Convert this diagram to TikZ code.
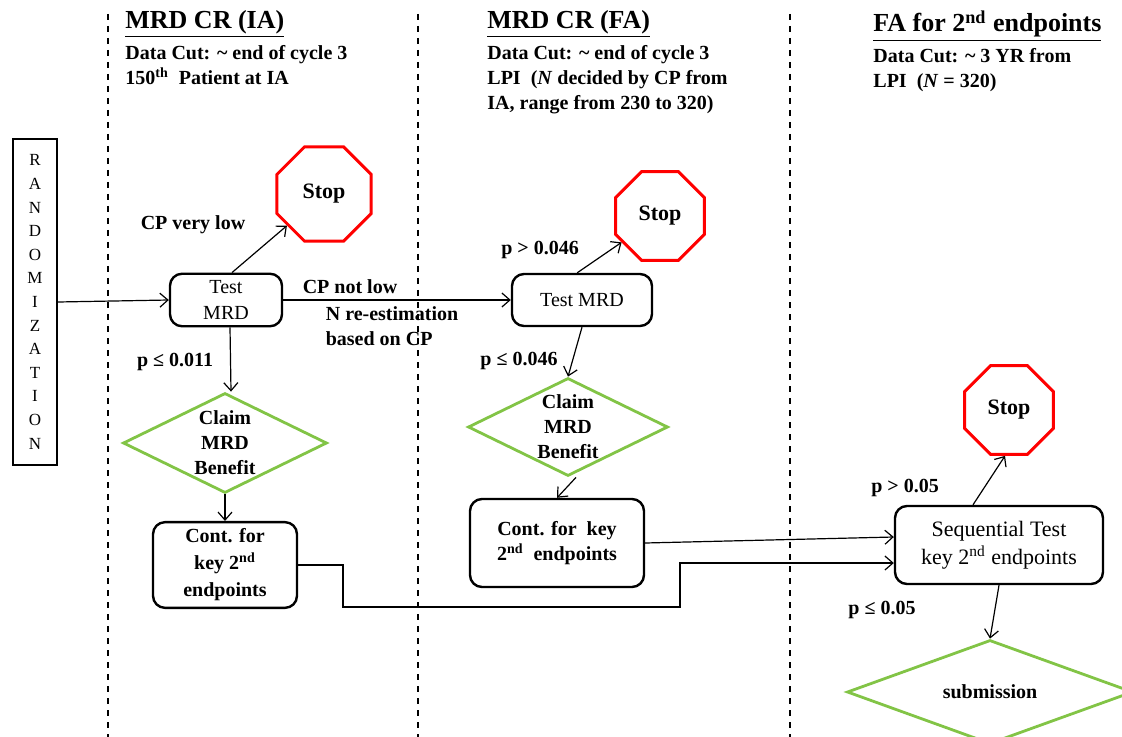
\documentclass[tikz,border=0pt]{standalone}
\usepackage{fontspec}
\setmainfont{Liberation Serif}
\usepackage{tikz}
\usetikzlibrary{shapes,arrows,positioning,calc,arrows.meta}

\definecolor{stopred}{RGB}{255,0,0}
\definecolor{claimgreen}{RGB}{130,196,70}

\tikzset{
    testbox/.style={draw, line width=1.2pt, rounded corners=6pt, align=center,
        font=\fontsize{10}{13}\selectfont},
    stopsign/.style={draw=stopred, line width=1.5pt, regular polygon, regular polygon sides=8,
        minimum size=48pt, inner sep=0pt, font=\fontsize{11}{13}\selectfont\bfseries},
    claimdiamond/.style={draw=claimgreen, line width=1.4pt, diamond, aspect=2, inner sep=0pt,
        align=center, font=\fontsize{10}{12.5}\selectfont\bfseries},
    lbl/.style={font=\fontsize{10}{12.5}\selectfont\bfseries},
    hdr/.style={anchor=north west, align=left, inner sep=0pt,
        font=\fontsize{10}{12.5}\selectfont\bfseries}
}

\begin{document}
\begin{tikzpicture}[x=0.5pt, y=-0.5pt, >={Straight Barb[length=4pt,width=7pt]}]
    \useasboundingbox (0,0) rectangle (1122,737);

    \foreach \x in {108,418,790}
        \draw [dashed, line width=0.6pt] (\x,14) -- (\x,737);

    % column headers
    \node [hdr] (hdria) at (125,10) {{\fontsize{13}{15}\selectfont\underline{MRD CR (IA)}}\\[3pt]
        Data Cut: \textasciitilde{} end of cycle 3\\
        150\textsuperscript{th}\ \ Patient at IA};
    \node [hdr] (hdrfa) at (487,10) {{\fontsize{13}{15}\selectfont\underline{MRD CR (FA)}}\\[3pt]
        Data Cut: \textasciitilde{} end of cycle 3\\
        LPI\ \ (\textit{N} decided by CP from\\
        IA, range from 230 to 320)};
    \node [hdr] (hdrsec) at (873,10) {{\fontsize{13}{15}\selectfont\underline{FA for 2\textsuperscript{nd} endpoints}}\\[3pt]
        Data Cut: \textasciitilde{} 3 YR from\\
        LPI\ \ (\textit{N} = 320)};

    \node [draw, line width=1.2pt, minimum width=22pt, minimum height=163pt, inner sep=0pt,
        align=center, font=\fontsize{8.5}{11.8}\selectfont] (rand) at (35,302)
        {R\\A\\N\\D\\O\\M\\I\\Z\\A\\T\\I\\O\\N};

    % interim analysis
    \node [testbox, minimum width=56pt, minimum height=26pt] (testia) at (226,300) {Test\\MRD};
    \node [stopsign, minimum size=51pt] (stopia) at (324,194) {Stop};
    \node [claimdiamond, minimum width=102pt, minimum height=50pt] (claimia) at (225,443) {Claim\\MRD\\Benefit};
    \node [testbox, minimum width=72pt, minimum height=42pt, font=\fontsize{10}{13.5}\selectfont\bfseries]
        (contia) at (225,565) {Cont. for\\key 2\textsuperscript{nd}\\endpoints};

    % final analysis
    \node [testbox, minimum width=70pt, minimum height=26pt] (testfa) at (582,300) {Test MRD};
    \node [stopsign] (stopfa) at (660,216) {Stop};
    \node [claimdiamond, minimum width=100pt, minimum height=49pt] (claimfa) at (568,427) {Claim\\MRD\\Benefit};
    \node [testbox, minimum width=87pt, minimum height=44pt, font=\fontsize{10}{12.5}\selectfont\bfseries]
        (contfa) at (557,543) {Cont. for\ \ key\\2\textsuperscript{nd}\ \ endpoints};

    % secondary endpoints
    \node [testbox, minimum width=104pt, minimum height=39pt, font=\fontsize{11}{14}\selectfont]
        (seqtest) at (999,545) {Sequential Test\\key 2\textsuperscript{nd} endpoints};
    \node [stopsign] (stopsq) at (1009,410) {Stop};
    \node [claimdiamond, aspect=2.75, minimum width=143pt, minimum height=52pt] (submit) at (990,692) {submission};

    \coordinate (bendA) at (343,607);
    \coordinate (bendB) at (680,607);

    \draw [->, line width=0.6pt] (rand.east) -- (testia.west);
    \draw [->, line width=0.6pt] ([xshift=3pt]testia.north) -- (stopia);
    \draw [->, line width=0.6pt] (testia.east) -- (testfa.west);
    \draw [->, line width=0.6pt] ([xshift=2pt]testia.south) -- ([xshift=3pt]claimia.north);
    \draw [->, line width=0.6pt] (claimia.south) -- (contia.north);
    \draw [->, line width=0.6pt] (testfa.100) -- (stopfa);
    \draw [->, line width=0.6pt] (testfa.south) -- (claimfa.north);
    \draw [->, line width=0.6pt] ([xshift=4pt]claimfa.south) -- (contfa.north);
    \draw [->, line width=0.6pt] (contfa.east) -- ([yshift=4pt]seqtest.west);
    \draw [->, line width=0.6pt] (contia.east) -| (bendA) -- (bendB) |- ([yshift=-9pt]seqtest.west);
    \draw [->, line width=0.6pt] ([xshift=-13pt]seqtest.north) -- ([xshift=-2pt]stopsq.south);
    \draw [->, line width=0.6pt] (seqtest.south) -- (submit.north);

    \node [lbl] (lblvlow) at (193,225) {CP very low};
    \node [lbl] (lblnlow) at (350,287) {CP not low};
    \node [lbl, align=left] (lblnest) at (392,326) {N re-estimation\\based on CP};
    \node [lbl] (lblia) at (175,362) {p ≤ 0.011};
    \node [lbl] (lblfastop) at (540,250) {p > 0.046};
    \node [lbl] (lblfa) at (519,361) {p ≤ 0.046};
    \node [lbl] (lblsqstop) at (905,488) {p > 0.05};
    \node [lbl] (lblsq) at (882,610) {p ≤ 0.05};
\end{tikzpicture}
\end{document}
